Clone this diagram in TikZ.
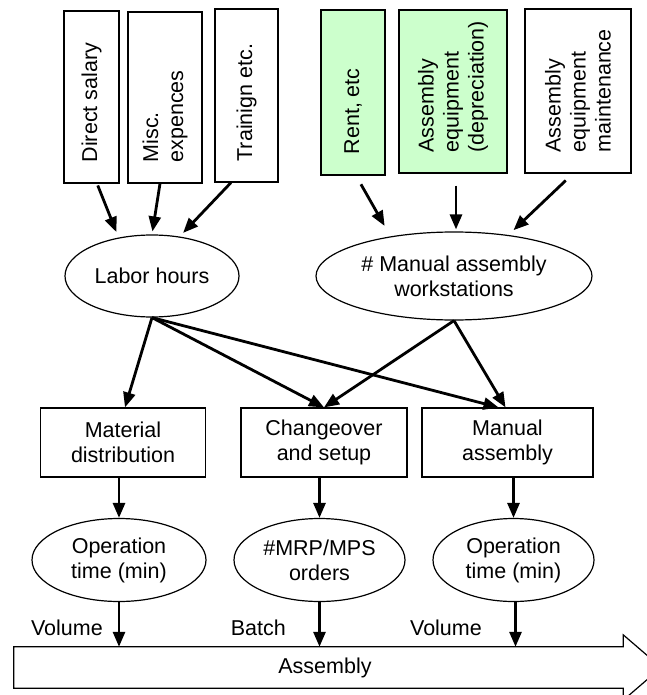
\documentclass[tikz,border=0pt]{standalone}
\usepackage{fontspec}
\setmainfont{Liberation Sans}
\usetikzlibrary{arrows.meta,shapes.geometric}
\definecolor{palegreen}{HTML}{CCFFCC}
\begin{document}
\begin{tikzpicture}[x=1pt,y=-1pt,
  font=\fontsize{21.5}{25}\selectfont,
  box/.style={draw, line width=1.2pt, inner sep=0pt, align=center},
  oval/.style={draw, ellipse, line width=1.2pt, inner sep=0pt, align=center},
  vtext/.style={rotate=90, anchor=west, align=left, inner sep=0pt},
  lbl/.style={anchor=east, inner sep=0pt},
  link/.style={line width=2.8pt, -{Triangle[length=15pt,width=12pt]}}]
\useasboundingbox (0,0) rectangle (646,695);
\node[box, minimum width=55pt, minimum height=172pt] (ds) at (91.5,97) {};
\node[box, minimum width=74pt, minimum height=171pt] (misc) at (165,97.5) {};
\node[box, minimum width=63pt, minimum height=173pt] (train) at (246.5,95.5) {};
\node[box, fill=palegreen, minimum width=64pt, minimum height=165pt] (rent) at (353,92.5) {};
\node[box, fill=palegreen, minimum width=108pt, minimum height=163pt] (dep) at (453,91.5) {};
\node[box, minimum width=106pt, minimum height=164pt] (maint) at (578,91) {};
\foreach \n/\t in {ds/Direct salary, misc/{Misc.\\expences}, train/Trainign etc.,
    rent/{Rent, etc}, dep/{Assembly\\equipment\\(depreciation)},
    maint/{Assembly\\equipment\\maintenance}}
  \node[vtext] (\n-txt) at ([yshift=21pt]\n.south) {\t};
\node[oval, minimum width=174pt, minimum height=82pt] (lab) at (152,276) {Labor hours};
\node[oval, minimum width=276pt, minimum height=88pt] (ws) at (454,276)
  {\# Manual assembly\\workstations};
\node[box, minimum width=165.5pt, minimum height=69pt] (md) at (123,442.5)
  {Material\\distribution};
\node[box, minimum width=166pt, minimum height=69pt] (cs) at (324,442.5)
  {Changeover\\and setup};
\node[box, minimum width=171pt, minimum height=69pt] (ma) at (507.5,442.5)
  {Manual\\assembly};
\node[oval, minimum width=174pt, minimum height=83pt] (op1) at (119,560)
  {Operation\\time (min)};
\node[oval, minimum width=171pt, minimum height=83pt] (mrp) at (319.5,560)
  {\#MRP/MPS\\orders};
\node[oval, minimum width=161pt, minimum height=83pt] (op2) at (513.5,560)
  {Operation\\time (min)};
\node[inner sep=0pt, minimum width=609pt, minimum height=41pt] (asm) at (318.5,667.5)
  {\hspace{13pt}Assembly};
\draw[line width=1.2pt] (asm.south west) -- (asm.north west) -- (asm.north east)
  -- ++(0,-12) -- ([xshift=38pt]asm.east) -- ([yshift=-12pt]asm.south east)
  -- (asm.south east) -- cycle;
\node[lbl] (vol1) at (103,628) {Volume};
\node[lbl] (bat) at (286,628) {Batch};
\node[lbl] (vol2) at (482,628) {Volume};
\draw[link, shorten <=2pt, shorten >=6pt] ([xshift=5.5pt]ds.south) -- (lab.131);
\draw[link, shorten >=3pt] ([xshift=-5pt]misc.south) -- (lab.north);
\draw[link, shorten >=5pt] ([xshift=-15.5pt]train.south) -- (lab.55);
\draw[link, shorten <=10pt, shorten >=12pt] ([xshift=3pt]rent.south) -- (ws.148);
\draw[link, shorten <=12pt, shorten >=2pt] ([xshift=3pt]dep.south) -- ([xshift=2pt]ws.north);
\draw[link, shorten <=10pt, shorten >=7pt] ([xshift=-5pt]maint.south) -- (ws.37);
\draw[link] (lab.south) -- ([xshift=2pt]md.north);
\draw[link] (lab.south) -- (cs.north);
\draw[link] (lab.south) -- ([xshift=-9pt]ma.north);
\draw[link] (ws.south) -- (cs.north);
\draw[link] (ws.south) -- ([xshift=-2pt]ma.north);
\draw[link] (op1 |- md.south) -- (op1.north);
\draw[link] (mrp |- cs.south) -- (mrp.north);
\draw[link] (op2 |- ma.south) -- (op2.north);
\draw[link] (op1.south) -- (op1.south |- asm.north);
\draw[link] (mrp.south) -- (mrp.south |- asm.north);
\draw[link] ([xshift=2pt]op2.south) -- ([xshift=2pt]op2.south |- asm.north);
\end{tikzpicture}
\end{document}
